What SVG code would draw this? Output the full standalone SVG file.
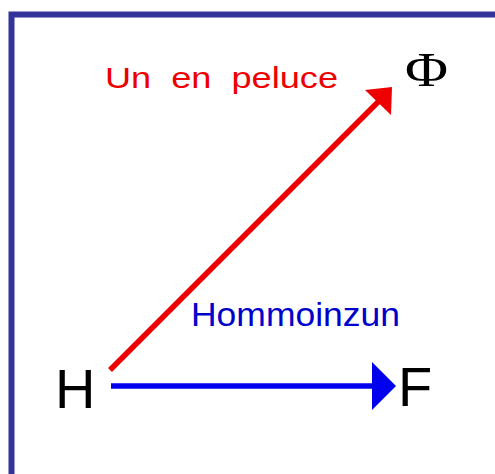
<svg xmlns="http://www.w3.org/2000/svg" width="495" height="474" viewBox="0 0 495 474">
<style>
.lbl{font-family:"Liberation Sans",Arial,sans-serif}
.node{font-family:"Liberation Sans",Arial,sans-serif;font-size:56px;fill:#000}
</style>
<rect x="0" y="0" width="495" height="474" fill="#fff"/>
<rect x="11.5" y="14.5" width="600" height="600" fill="none" stroke="#333399" stroke-width="6"/>
<g id="connectors">
  <g id="edge-H-Phi">
    <line x1="110" y1="370" x2="380" y2="100" stroke="#ee0000" stroke-width="5.5"/>
    <polygon points="392,87 365,90 391,115" fill="#ee0000"/>
    <text class="lbl" x="105" y="88" font-size="30" fill="#ee0000" textLength="233" lengthAdjust="spacingAndGlyphs" xml:space="preserve">Un  en  peluce</text>
  </g>
  <g id="edge-H-F">
    <line x1="111" y1="386" x2="374" y2="386" stroke="#0000ee" stroke-width="5.5"/>
    <polygon points="372,362 396,386 372,410" fill="#0000ee"/>
    <text class="lbl" x="191" y="326" font-size="33" fill="#0000cc" textLength="209" lengthAdjust="spacingAndGlyphs">Hommoinzun</text>
  </g>
</g>
<g id="node-H"><text class="node" x="55" y="408">H</text></g>
<g id="node-F"><text class="node" x="398" y="406">F</text></g>
<g id="node-Phi"><text x="405" y="86" font-family="'Liberation Serif','Times New Roman',serif" font-size="48" fill="#000" textLength="43" lengthAdjust="spacingAndGlyphs">Φ</text></g>
</svg>
